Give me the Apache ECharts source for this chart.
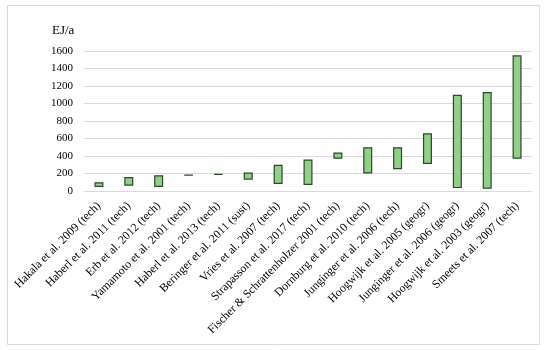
<!DOCTYPE html>
<html>
<head>
<meta charset="utf-8">
<script src="https://cdn.jsdelivr.net/npm/echarts@6/dist/echarts.min.js"></script>
<style>
html,body{margin:0;padding:0;background:#fff;}
#c{width:550px;height:350px;}
</style>
</head>
<body>
<div id="c"></div>
<script>
const categories = [
  "Hakala et al. 2009 (tech)",
  "Haberl et al. 2011 (tech)",
  "Erb et al. 2012 (tech)",
  "Yamamoto et al. 2001 (tech)",
  "Haberl et al. 2013 (tech)",
  "Beringer et al. 2011 (sust)",
  "Vries et al. 2007 (tech)",
  "Strapasson et al. 2017 (tech)",
  "Fischer & Schrattenholzer 2001 (tech)",
  "Dornburg et al. 2010 (tech)",
  "Junginger et al. 2006 (tech)",
  "Hoogwijk et al. 2005 (geogr)",
  "Junginger et al. 2006 (geogr)",
  "Hoogwijk et al. 2003 (geogr)",
  "Smeets et al. 2007 (tech)"
];
const lowValues  = [45, 60, 45, 180, 188, 130, 80, 70, 370, 200, 250, 310, 33, 25, 370];
const highValues = [100, 160, 180, 184, 192, 210, 300, 360, 440, 500, 500, 660, 1100, 1130, 1550];
const yTicks = {min: 0, max: 1600, interval: 200};
const unitLabel = "EJ/a";

const chart = echarts.init(document.getElementById('c'), null, {renderer: 'canvas'});
const serif = "'Liberation Serif', 'DejaVu Serif', serif";
chart.setOption({
  animation: false,
  backgroundColor: '#fff',
  graphic: [{
    type: 'rect',
    shape: {x: 7.5, y: 5.5, width: 532, height: 339},
    style: {fill: 'none', stroke: '#d9d9d9', lineWidth: 1},
    silent: true
  }],
  title: {
    text: unitLabel,
    left: 47, top: 19,
    textStyle: {fontFamily: serif, fontSize: 13, fontWeight: 'normal', color: '#000'}
  },
  grid: {left: 84, right: 18, top: 51, bottom: 159, containLabel: false},
  xAxis: {
    type: 'category',
    data: categories,
    axisLine: {show: true, lineStyle: {color: '#d9d9d9', width: 1}},
    axisTick: {show: false},
    axisLabel: {
      rotate: 45, interval: 0, margin: 13,
      fontFamily: serif, fontSize: 11.8, color: '#000'
    }
  },
  yAxis: {
    type: 'value',
    min: yTicks.min, max: yTicks.max, interval: yTicks.interval,
    axisLine: {show: false},
    axisTick: {show: false},
    splitLine: {lineStyle: {color: '#d9d9d9', width: 1}},
    axisLabel: {fontFamily: serif, fontSize: 11, color: '#000', margin: 11,
      formatter: v => String(v)}
  },
  series: [
    {
      type: 'bar', stack: 'r', barWidth: 9,
      data: lowValues,
      itemStyle: {color: 'transparent'},
      silent: true
    },
    {
      type: 'bar', stack: 'r', barWidth: 9,
      data: highValues.map((h, i) => h - lowValues[i]),
      itemStyle: {color: '#92d08a', borderColor: '#2b472b', borderWidth: 1.2}
    }
  ]
});
</script>
</body>
</html>
